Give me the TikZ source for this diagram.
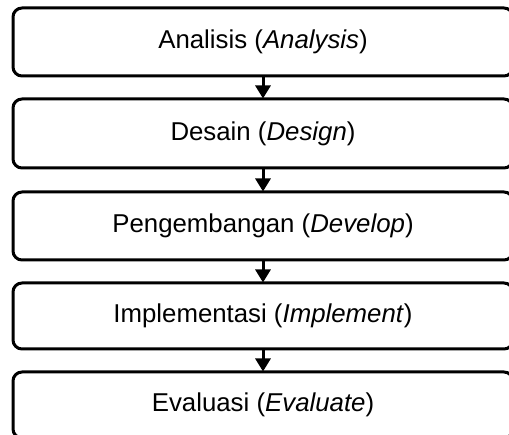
\documentclass[tikz,border=0pt]{standalone}
\usepackage{fontspec}
\setmainfont{Liberation Sans}
\usetikzlibrary{arrows.meta}
\begin{document}
\begin{tikzpicture}[x=1pt,y=1pt,
  stage/.style={draw=black, line width=3pt, rounded corners=9pt, fill=white,
    minimum width=500pt, inner sep=0pt, font=\fontsize{25.8}{30}\selectfont},
  flow/.style={line width=3pt, -{Triangle[length=13pt,width=15pt]}, shorten >=-1pt}]
\useasboundingbox (0,0) rectangle (509,434);
\clip (0,0) rectangle (509,434);
\node[stage, minimum height=68pt] (b1) at (263,434-42) {Analisis (\textit{Analysis})};
\node[stage, minimum height=69pt] (b2) at (263,434-133.5) {Desain (\textit{Design})};
\node[stage, minimum height=68pt] (b3) at (263,434-226) {Pengembangan (\textit{Develop})};
\node[stage, minimum height=66pt] (b4) at (263,434-316) {Implementasi (\textit{Implement})};
\node[stage, minimum height=66pt] (b5) at (263,434-405) {Evaluasi (\textit{Evaluate})};
\draw[flow] (b1.south) -- (b2.north);
\draw[flow] (b2.south) -- (b3.north);
\draw[flow] (b3.south) -- (b4.north);
\draw[flow] (b4.south) -- (b5.north);
\end{tikzpicture}
\end{document}
